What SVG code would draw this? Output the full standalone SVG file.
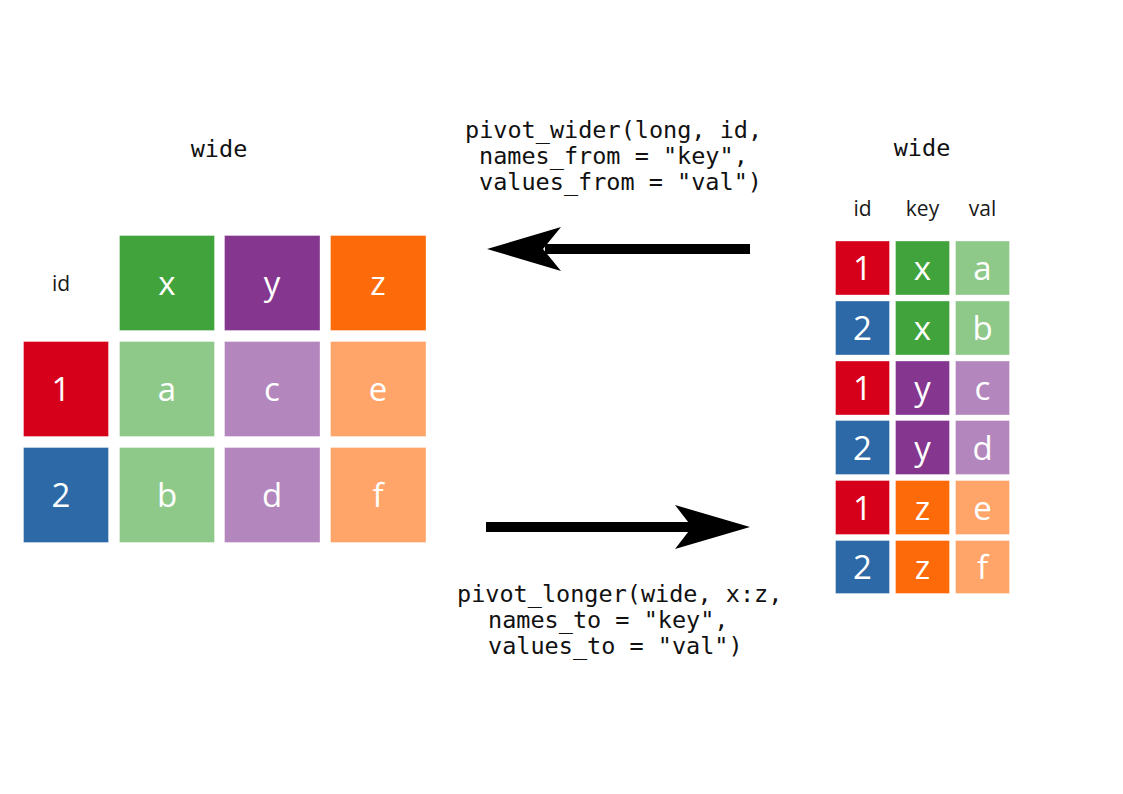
<svg xmlns="http://www.w3.org/2000/svg" width="1123" height="794" viewBox="0 0 1123 794">
<style>
.bg{fill:#ffffff}
.cell{stroke:#ffffff;stroke-opacity:0.35;stroke-width:1}
.red{fill:#D7001A}.blue{fill:#2C69A6}
.green{fill:#41A33B}.purple{fill:#85378F}.orange{fill:#FD6A0A}
.lgreen{fill:#8FC98A}.lpurple{fill:#B387BD}.lorange{fill:#FFA56A}
.ct{font-family:"Open Sans","Noto Sans",sans-serif;font-size:33px;fill:#ffffff;text-anchor:middle}
.lbl{font-family:"Open Sans","Noto Sans",sans-serif;font-size:21px;fill:#1a1a1a;text-anchor:middle}
.code{font-family:"DejaVu Sans Mono","Liberation Mono",monospace;font-size:23.5px;fill:#111111}
.ttl{font-family:"DejaVu Sans Mono","Liberation Mono",monospace;font-size:23.5px;fill:#111111;text-anchor:middle}
.arrowline{stroke:#000000;stroke-width:10;fill:none}
.head{fill:#000000}
</style>
<rect class="bg" x="0" y="0" width="1123" height="794"/>

<g id="wide-table">
  <text class="ttl" x="219" y="157">wide</text>
  <text class="lbl" x="61" y="291">id</text>
  <g id="w-x"><rect class="cell green" x="119.5" y="235.5" width="95" height="95"/><text class="ct" x="167" y="295">x</text></g>
  <g id="w-y"><rect class="cell purple" x="224.5" y="235.5" width="95.5" height="95"/><text class="ct" x="272" y="295">y</text></g>
  <g id="w-z"><rect class="cell orange" x="330.5" y="235.5" width="95.5" height="95"/><text class="ct" x="378" y="295">z</text></g>
  <g id="w-id1"><rect class="cell red" x="23.5" y="341.5" width="85" height="95"/><text class="ct" x="61" y="401">1</text></g>
  <g id="w-a"><rect class="cell lgreen" x="119.5" y="341.5" width="95" height="95"/><text class="ct" x="167" y="401">a</text></g>
  <g id="w-c"><rect class="cell lpurple" x="224.5" y="341.5" width="95.5" height="95"/><text class="ct" x="272" y="401">c</text></g>
  <g id="w-e"><rect class="cell lorange" x="330.5" y="341.5" width="95.5" height="95"/><text class="ct" x="378" y="401">e</text></g>
  <g id="w-id2"><rect class="cell blue" x="23.5" y="447.5" width="85" height="95"/><text class="ct" x="61" y="507">2</text></g>
  <g id="w-b"><rect class="cell lgreen" x="119.5" y="447.5" width="95" height="95"/><text class="ct" x="167" y="507">b</text></g>
  <g id="w-d"><rect class="cell lpurple" x="224.5" y="447.5" width="95.5" height="95"/><text class="ct" x="272" y="507">d</text></g>
  <g id="w-f"><rect class="cell lorange" x="330.5" y="447.5" width="95.5" height="95"/><text class="ct" x="378" y="507">f</text></g>
</g>

<g id="long-table">
  <text class="ttl" x="922" y="156">wide</text>
  <text class="lbl" x="862.5" y="216">id</text>
  <text class="lbl" x="922.5" y="216">key</text>
  <text class="lbl" x="982.5" y="216">val</text>
  <g id="l-r1"><rect class="cell red" x="835.5" y="241" width="54" height="54"/><text class="ct" x="862.5" y="280">1</text><rect class="cell green" x="895.5" y="241" width="54" height="54"/><text class="ct" x="922.5" y="280">x</text><rect class="cell lgreen" x="955.5" y="241" width="54" height="54"/><text class="ct" x="982.5" y="280">a</text></g>
  <g id="l-r2"><rect class="cell blue" x="835.5" y="301" width="54" height="54"/><text class="ct" x="862.5" y="340">2</text><rect class="cell green" x="895.5" y="301" width="54" height="54"/><text class="ct" x="922.5" y="340">x</text><rect class="cell lgreen" x="955.5" y="301" width="54" height="54"/><text class="ct" x="982.5" y="340">b</text></g>
  <g id="l-r3"><rect class="cell red" x="835.5" y="361" width="54" height="54"/><text class="ct" x="862.5" y="400">1</text><rect class="cell purple" x="895.5" y="361" width="54" height="54"/><text class="ct" x="922.5" y="400">y</text><rect class="cell lpurple" x="955.5" y="361" width="54" height="54"/><text class="ct" x="982.5" y="400">c</text></g>
  <g id="l-r4"><rect class="cell blue" x="835.5" y="420.5" width="54" height="54"/><text class="ct" x="862.5" y="459.5">2</text><rect class="cell purple" x="895.5" y="420.5" width="54" height="54"/><text class="ct" x="922.5" y="459.5">y</text><rect class="cell lpurple" x="955.5" y="420.5" width="54" height="54"/><text class="ct" x="982.5" y="459.5">d</text></g>
  <g id="l-r5"><rect class="cell red" x="835.5" y="480.5" width="54" height="54"/><text class="ct" x="862.5" y="519.5">1</text><rect class="cell orange" x="895.5" y="480.5" width="54" height="54"/><text class="ct" x="922.5" y="519.5">z</text><rect class="cell lorange" x="955.5" y="480.5" width="54" height="54"/><text class="ct" x="982.5" y="519.5">e</text></g>
  <g id="l-r6"><rect class="cell blue" x="835.5" y="540.5" width="54" height="53" /><text class="ct" x="862.5" y="579">2</text><rect class="cell orange" x="895.5" y="540.5" width="54" height="53"/><text class="ct" x="922.5" y="579">z</text><rect class="cell lorange" x="955.5" y="540.5" width="54" height="53"/><text class="ct" x="982.5" y="579">f</text></g>
</g>

<g id="connectors">
  <g id="arrow-wider">
    <line class="arrowline" x1="750" y1="249" x2="545" y2="249"/>
    <polygon class="head" points="487,249 561,227 543,249 561,271"/>
  </g>
  <g id="arrow-longer">
    <line class="arrowline" x1="486" y1="527" x2="692" y2="527"/>
    <polygon class="head" points="750,527 675,505 692,527 675,549"/>
  </g>
</g>

<g id="label-wider">
  <text class="code" x="465" y="138">pivot_wider(long, id,</text>
  <text class="code" x="479" y="164">names_from = "key",</text>
  <text class="code" x="479" y="190">values_from = "val")</text>
</g>
<g id="label-longer">
  <text class="code" x="457" y="602">pivot_longer(wide, x:z,</text>
  <text class="code" x="488" y="628">names_to = "key",</text>
  <text class="code" x="488" y="654">values_to = "val")</text>
</g>
</svg>
